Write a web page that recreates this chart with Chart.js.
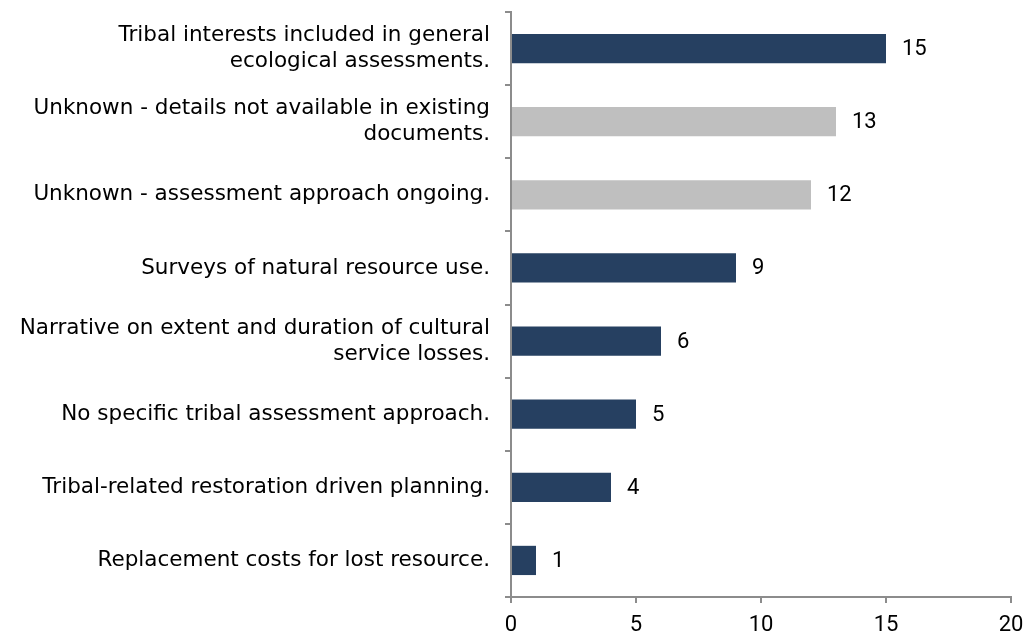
<!DOCTYPE html>
<html>
<head>
<meta charset="utf-8">
<script src="https://cdn.jsdelivr.net/npm/chart.js@4/dist/chart.umd.min.js"></script>
<style>
  html, body { margin: 0; padding: 0; background: #fff; }
  #wrap { width: 1032px; height: 636px; }
</style>
</head>
<body>
<div id="wrap"><canvas id="c" width="1032" height="636"></canvas></div>
<script>
const categories = [
  ['Tribal interests included in general', 'ecological assessments.'],
  ['Unknown - details not available in existing', 'documents.'],
  'Unknown - assessment approach ongoing.',
  'Surveys of natural resource use.',
  ['Narrative on extent and duration of cultural', 'service losses.'],
  'No specific tribal assessment approach.',
  'Tribal-related restoration driven planning.',
  'Replacement costs for lost resource.',
]
const counts = [15, 13, 12, 9, 6, 5, 4, 1]
const unknownRows = [false, true, true, false, false, false, false, false]
const xTicks = [0, 5, 10, 15, 20]

const NAVY = '#264061'
const GRAY = '#bfbfbf'
const AXIS = '#8c8c8c'
const LABEL_FONT = 'DejaVu Sans'
const NUM_FONT = 'Roboto'

// number written just past the end of each bar
const barValues = {
  id: 'barValues',
  afterDatasetsDraw(chart) {
    const { ctx } = chart
    const meta = chart.getDatasetMeta(0)
    ctx.save()
    ctx.font = `22px "${NUM_FONT}"`
    ctx.fillStyle = '#000'
    ctx.textAlign = 'left'
    ctx.textBaseline = 'middle'
    meta.data.forEach((bar, i) => {
      ctx.fillText(String(counts[i]), bar.x + 16, bar.y + 1)
    })
    ctx.restore()
  }
}

// keep the plot edges where the layout padding puts them
const noEdgePad = s => { s.paddingTop = 0; s.paddingBottom = 0; s.paddingLeft = 0; s.paddingRight = 0 }

new Chart(document.getElementById('c'), {
  type: 'bar',
  data: {
    labels: categories,
    datasets: [{
      data: counts,
      backgroundColor: unknownRows.map(u => u ? GRAY : NAVY),
      borderWidth: 0,
      categoryPercentage: 0.4,
      barPercentage: 1,
    }],
  },
  options: {
    indexAxis: 'y',
    responsive: false,
    animation: false,
    layout: { padding: { top: 12, right: 21, left: 0, bottom: 0 } },
    plugins: { legend: { display: false }, tooltip: { enabled: false } },
    scales: {
      x: {
        min: 0,
        max: 20,
        afterBuildTicks: s => { s.ticks = xTicks.map(v => ({ value: v })) },
        afterFit: s => { s.height = 39; noEdgePad(s) },
        grid: { drawOnChartArea: false, drawTicks: true, tickLength: 6, color: AXIS, lineWidth: 2 },
        border: { color: AXIS, width: 2 },
        ticks: { color: '#000', font: { family: NUM_FONT, size: 22 }, padding: 9, maxRotation: 0 },
      },
      y: {
        afterFit: s => { s.width = 511; noEdgePad(s) },
        grid: { drawOnChartArea: false, drawTicks: true, tickLength: 6, color: AXIS, lineWidth: 2, offset: true },
        border: { color: AXIS, width: 2 },
        ticks: { color: '#000', font: { family: LABEL_FONT, size: 21.5, lineHeight: 1.2 }, padding: 15 },
      },
    },
  },
  plugins: [barValues],
})
</script>
</body>
</html>
